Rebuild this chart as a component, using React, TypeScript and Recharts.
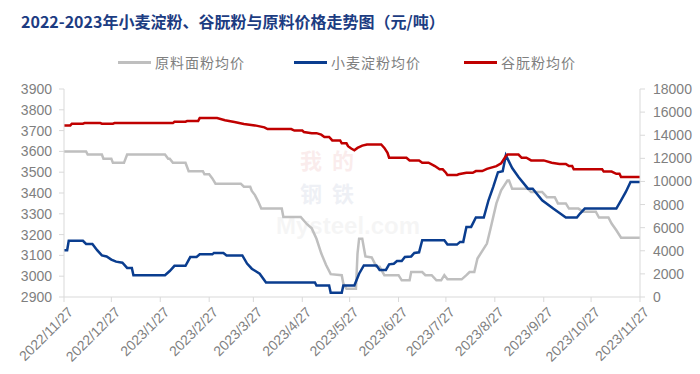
import React from 'react';
import { LineChart, Line, XAxis, YAxis } from 'recharts';

// days since 2022/11/27
const tickDays = [0, 30, 61, 92, 120, 151, 181, 212, 242, 273, 304, 334, 365];
const tickLabels = ['2022/11/27', '2022/12/27', '2023/1/27', '2023/2/27', '2023/3/27', '2023/4/27', '2023/5/27', '2023/6/27', '2023/7/27', '2023/8/27', '2023/9/27', '2023/10/27', '2023/11/27'];

const leftTicks = [2900, 3000, 3100, 3200, 3300, 3400, 3500, 3600, 3700, 3800, 3900];
const rightTicks = [0, 2000, 4000, 6000, 8000, 10000, 12000, 14000, 16000, 18000];

// 原料面粉均价 (left axis)
const flourDays = [0, 14, 15, 24, 25, 30, 31, 38, 40, 64, 66, 67, 69, 76, 77, 79, 88, 89, 92, 94, 96, 112, 114, 118, 119, 121, 123, 125, 138, 139, 150, 154, 157, 160, 163, 166, 169, 176, 177, 179, 185, 186, 187, 189, 191, 195, 198, 200, 203, 212, 214, 219, 220, 227, 229, 233, 236, 239, 241, 243, 252, 255, 257, 260, 262, 268, 270, 274, 277, 281, 282, 284, 294, 296, 303, 306, 311, 313, 318, 320, 326, 329, 337, 339, 345, 347, 350, 353, 365];
const flourPrices = [3600, 3600, 3585, 3585, 3565, 3565, 3545, 3545, 3585, 3585, 3565, 3565, 3545, 3545, 3545, 3505, 3505, 3490, 3490, 3470, 3445, 3445, 3430, 3430, 3410, 3390, 3360, 3325, 3325, 3285, 3285, 3250, 3230, 3180, 3110, 3055, 3010, 3005, 2965, 2940, 2940, 3110, 3180, 3180, 3095, 3090, 3045, 3045, 3005, 3005, 2980, 2980, 3020, 3020, 3005, 3005, 2980, 2980, 3005, 2985, 2985, 3005, 3020, 3020, 3085, 3157, 3220, 3350, 3413, 3460, 3460, 3420, 3420, 3405, 3405, 3380, 3380, 3350, 3350, 3325, 3325, 3310, 3310, 3282, 3282, 3253, 3221, 3185, 3185];

// 小麦淀粉均价 (left axis)
const starchDays = [0, 2, 3, 12, 14, 18, 21, 24, 27, 30, 33, 37, 40, 43, 44, 64, 67, 70, 77, 80, 84, 86, 94, 95, 101, 103, 113, 116, 119, 124, 128, 159, 160, 168, 169, 176, 177, 184, 187, 190, 198, 200, 204, 206, 209, 211, 214, 216, 220, 222, 225, 227, 241, 243, 249, 251, 253, 255, 258, 261, 266, 269, 272, 275, 278, 280, 284, 288, 294, 297, 303, 310, 316, 318, 325, 327, 330, 350, 353, 356, 359, 365];
const starchPrices = [3125, 3125, 3170, 3170, 3155, 3155, 3125, 3100, 3095, 3080, 3070, 3065, 3040, 3040, 3005, 3005, 3025, 3050, 3050, 3092, 3092, 3105, 3105, 3112, 3112, 3100, 3100, 3061, 3036, 3012, 2970, 2970, 2955, 2955, 2920, 2920, 2955, 2955, 3012, 3052, 3052, 3030, 3030, 3057, 3060, 3073, 3073, 3092, 3095, 3112, 3115, 3173, 3173, 3152, 3152, 3165, 3165, 3237, 3237, 3282, 3282, 3365, 3429, 3500, 3505, 3581, 3520, 3477, 3421, 3421, 3365, 3325, 3293, 3282, 3282, 3301, 3325, 3325, 3365, 3405, 3453, 3453];

// 谷朊粉均价 (right axis)
const glutenDays = [0, 4, 5, 12, 13, 23, 24, 31, 32, 69, 70, 77, 78, 85, 86, 97, 102, 108, 114, 121, 127, 129, 144, 146, 151, 152, 157, 160, 163, 165, 168, 170, 175, 176, 179, 180, 182, 184, 186, 189, 192, 201, 203, 205, 206, 217, 219, 225, 227, 231, 235, 238, 240, 242, 243, 249, 250, 255, 259, 261, 265, 268, 274, 277, 280, 281, 288, 290, 293, 296, 304, 309, 314, 318, 320, 322, 323, 341, 342, 347, 350, 352, 353, 365];
const glutenPrices = [14850, 14850, 15000, 15000, 15050, 15050, 15000, 15000, 15050, 15050, 15170, 15170, 15220, 15220, 15480, 15480, 15300, 15150, 14980, 14850, 14680, 14530, 14530, 14400, 14400, 14280, 14180, 14180, 14050, 13850, 13850, 13550, 13550, 13300, 13300, 13050, 12850, 12700, 12900, 13100, 13200, 13200, 12900, 12470, 12050, 12050, 11820, 11820, 11620, 11620, 11330, 11050, 11050, 10750, 10550, 10550, 10620, 10750, 10750, 10900, 10900, 11090, 11330, 11560, 12200, 12330, 12330, 12050, 12050, 11820, 11820, 11620, 11520, 11520, 11330, 11330, 11050, 11050, 10850, 10850, 10660, 10660, 10380, 10380];

const flourData = flourDays.map((d, i) => ({ d, v: flourPrices[i] }));
const starchData = starchDays.map((d, i) => ({ d, v: starchPrices[i] }));
const glutenData = glutenDays.map((d, i) => ({ d, v: glutenPrices[i] }));

const GRAY = '#bfbfbf';
const BLUE = '#0a3d8f';
const RED = '#c00000';
const AXIS = '#d9d9d9';
const TEXT = '#7f7f7f';
const FONT = '"Liberation Sans", Arial, sans-serif';
const CJK = '"Noto Sans CJK SC", sans-serif';

const XTick = (props: any) => {
  const { x, y, payload } = props;
  const idx = tickDays.indexOf(payload.value);
  const label = idx >= 0 ? tickLabels[idx] : '';
  const ax = x + 3;
  const ay = y + 2;
  return (
    <text x={ax} y={ay} transform={`rotate(-45 ${ax} ${ay})`} textAnchor="end" fill={TEXT} fontSize={14} fontFamily={FONT} dy="0.7em">
      {label}
    </text>
  );
};

const legendItems = [
  { name: '原料面粉均价', color: GRAY, x: 118 },
  { name: '小麦淀粉均价', color: BLUE, x: 294 },
  { name: '谷朊粉均价', color: RED, x: 464 },
];

export default function App() {
  return (
    <div style={{ position: 'absolute', left: 0, top: 0, width: 700, height: 374, background: '#fff', overflow: 'hidden' }}>
      <div style={{ position: 'absolute', left: 21, top: 9, fontFamily: CJK, fontWeight: 700, fontSize: 16, color: '#1c3c82', whiteSpace: 'nowrap', letterSpacing: 0 }}>
        2022-2023年小麦淀粉、谷朊粉与原料价格走势图（元/吨）
      </div>
      {legendItems.map((it) => (
        <div key={it.name} style={{ position: 'absolute', left: it.x, top: 52, height: 20, display: 'flex', alignItems: 'center', whiteSpace: 'nowrap' }}>
          <div style={{ width: 33, height: 3, background: it.color }} />
          <span style={{ marginLeft: 4, fontFamily: CJK, fontSize: 14, color: TEXT, letterSpacing: 1 }}>{it.name}</span>
        </div>
      ))}
      <div style={{ position: 'absolute', left: 300, top: 143, fontFamily: CJK, fontSize: 22, lineHeight: '33px', fontWeight: 700, opacity: 0.07, color: '#c00000', whiteSpace: 'nowrap', letterSpacing: 10 }}>
        我的
      </div>
      <div style={{ position: 'absolute', left: 300, top: 176, fontFamily: CJK, fontSize: 22, lineHeight: '33px', fontWeight: 700, opacity: 0.07, color: '#1c3c82', whiteSpace: 'nowrap', letterSpacing: 10 }}>
        钢铁
      </div>
      <div style={{ position: 'absolute', left: 276, top: 209, fontFamily: FONT, fontSize: 24, lineHeight: '33px', fontWeight: 700, opacity: 0.05, color: '#555', whiteSpace: 'nowrap' }}>
        Mysteel.com
      </div>
      <div style={{ position: 'absolute', left: 0, top: 0 }}>
        <LineChart width={700} height={374} margin={{ top: 89, right: 0, bottom: 0, left: 0 }}>
          <XAxis
            dataKey="d"
            type="number"
            domain={[0, 365]}
            ticks={tickDays}
            interval={0}
            stroke={AXIS}
            tickSize={5}
            tickMargin={2}
            height={77}
            tick={<XTick />}
            allowDataOverflow
          />
          <YAxis
            yAxisId="left"
            orientation="left"
            domain={[2900, 3900]}
            ticks={leftTicks}
            interval={0}
            width={64}
            stroke={AXIS}
            tickSize={5}
            tickMargin={7}
            tick={{ fill: TEXT, fontSize: 14, fontFamily: FONT }}
            allowDataOverflow
          />
          <YAxis
            yAxisId="right"
            orientation="right"
            domain={[0, 18000]}
            ticks={rightTicks}
            interval={0}
            width={60}
            stroke={AXIS}
            tickSize={5}
            tickMargin={8}
            tick={{ fill: TEXT, fontSize: 14, fontFamily: FONT }}
            allowDataOverflow
          />
          <Line yAxisId="left" data={flourData} dataKey="v" type="linear" stroke={GRAY} strokeWidth={2.5} dot={false} isAnimationActive={false} />
          <Line yAxisId="left" data={starchData} dataKey="v" type="linear" stroke={BLUE} strokeWidth={2.5} dot={false} isAnimationActive={false} />
          <Line yAxisId="right" data={glutenData} dataKey="v" type="linear" stroke={RED} strokeWidth={2.5} dot={false} isAnimationActive={false} />
        </LineChart>
      </div>
    </div>
  );
}
